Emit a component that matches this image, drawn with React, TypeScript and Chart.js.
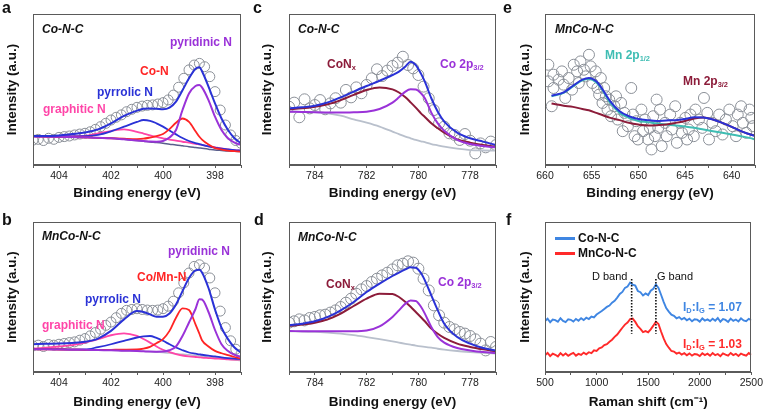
import React, { useEffect, useRef } from 'react';
import { Chart, registerables } from 'chart.js';
Chart.register(...registerables);

const FONT = '"Liberation Sans", Arial, Helvetica, sans-serif';

// ---------- N 1s (panels a, b) ----------
const nE = [405, 404.5, 404, 403.5, 403, 402.5, 402, 401.5, 401, 400.75, 400.5, 400.25, 400, 399.75, 399.5, 399.25, 399, 398.75, 398.6, 398.5, 398.25, 398, 397.75, 397.5, 397.25, 397];
const aEnvelope = [19.2, 19.2, 19.6, 20.5, 21.5, 23.6, 27.6, 32.5, 36, 37.2, 37.5, 37.3, 36.9, 38, 42, 49.5, 57.4, 63.8, 64.7, 62.1, 51.9, 40.8, 30.8, 23.2, 17.7, 14.4];
const aBaseline = [19, 18.8, 18.7, 18.5, 18.3, 18, 17.7, 17, 16.2, 15.8, 15.3, 14.9, 14.4, 13.8, 13.3, 12.7, 12.1, 11.6, 11.3, 11.1, 10.5, 9.9, 9.6, 9.3, 9.1, 8.9];
const aPyridinic = [19, 18.8, 18.7, 18.5, 18.3, 18, 17.7, 17, 16.3, 15.9, 15.5, 15.4, 15.9, 18.2, 23.2, 36.4, 47.4, 52.3, 53, 51.4, 43, 32, 23.2, 17.7, 14.8, 13.3];
const aCoN = [19, 18.8, 18.7, 18.5, 18.3, 18, 17.7, 17.4, 17.2, 17.4, 18.2, 19.2, 20.5, 23.8, 28, 30.8, 28.5, 22.4, 18.7, 16.8, 13.5, 11.2, 10.3, 9.5, 9.2, 8.9];
const aPyrrolic = [19, 19, 19, 19, 19.1, 19.9, 22.3, 25.4, 28.5, 29.8, 29.3, 27.6, 25.4, 22.8, 20.3, 17.9, 15.9, 14.5, 13.8, 13.3, 12.3, 11.5, 10.9, 10.4, 9.9, 9.5];
const aGraphitic = [19, 19, 19, 19.1, 19.2, 21, 22.5, 23.6, 22, 20.8, 19.6, 18.6, 17.7, 16.8, 16.2, 15.4, 14.8, 14, 13.6, 13.3, 12.4, 11.7, 11, 10.4, 9.9, 9.5];

const bEnvelope = [18.5, 18.8, 19, 19.4, 20.1, 22.3, 27.4, 35.1, 40.6, 40, 38.4, 36.9, 36.9, 39, 45, 53.9, 62.7, 67.8, 68.2, 66.4, 56, 41.7, 29.6, 21.9, 16.3, 13];
const bBaseline = [15.2, 15.1, 15, 14.9, 14.8, 14.6, 14.5, 14.2, 14, 13.8, 13.5, 13.2, 13, 12.6, 12.2, 11.8, 11.5, 11, 10.7, 10.5, 10, 9.5, 9, 8.5, 8, 7.5];
const bPyridinic = [15.2, 15.1, 15, 14.9, 14.8, 14.6, 14.5, 14.2, 14, 13.8, 13.6, 13.5, 13.6, 14.5, 17, 24, 33, 42, 48.5, 48.3, 40, 28, 18.5, 14, 11.5, 10];
const bCoMnN = [15.2, 15.1, 15, 14.9, 14.8, 14.7, 14.8, 14.9, 15, 15.6, 16.8, 19.2, 21.9, 27.4, 36.2, 42.4, 41.3, 31.8, 25.5, 21.2, 17, 14.1, 12.5, 11.3, 10, 9];
const bPyrrolic = [15.2, 15.2, 15.2, 15.1, 15, 16.6, 18.5, 20.8, 23, 23.7, 24, 22.7, 20.8, 18.5, 16.3, 14.5, 13, 12.2, 11.8, 11.5, 10.9, 10.4, 9.8, 9.3, 8.9, 8.6];
const bGraphitic = [15.5, 16.2, 17, 17.9, 19.6, 21.9, 24.5, 25.8, 24.1, 22, 19.6, 17, 14.8, 13.2, 11.9, 11, 10.4, 10, 9.8, 9.6, 9.3, 9, 8.8, 8.5, 8.3, 8.2];

const nCircleE = [405, 404.8, 404.6, 404.4, 404.2, 404, 403.8, 403.6, 403.4, 403.2, 403, 402.8, 402.6, 402.4, 402.2, 402, 401.8, 401.6, 401.4, 401.2, 401, 400.8, 400.6, 400.4, 400.2, 400, 399.8, 399.6, 399.4, 399.2, 399, 398.8, 398.6, 398.4, 398.2, 398, 397.8, 397.6, 397.4, 397.2, 397];
const aCircles = [16.5, 17, 16.2, 17.7, 17, 18.3, 18.8, 19.2, 19.9, 20.5, 21, 22, 23.6, 25.4, 27.6, 29.8, 31.6, 33.2, 35.3, 36.9, 38.2, 39, 39.5, 39.8, 40.4, 41.3, 43.1, 46.3, 51.5, 57.4, 63, 66.2, 67.3, 65.1, 58.5, 48.6, 36.4, 26.5, 19.9, 16.2, 14.4];
const bCircles = [17.4, 17.9, 17, 18.3, 17.9, 18.5, 19, 19.6, 20.1, 21.2, 22.3, 24.1, 26.3, 28.5, 31.1, 33.3, 36.2, 39.1, 41.1, 41.7, 42.2, 41.7, 41.3, 41.1, 41.3, 42.2, 43.9, 47.2, 52.8, 59.4, 66, 70.4, 71.5, 69.3, 62.7, 52.8, 40.6, 29.6, 20.8, 15.2, 11.9];

// ---------- Co 2p (panels c, d) ----------
const coE = [785, 784.5, 784, 783.5, 783, 782.5, 782, 781.5, 781, 780.75, 780.5, 780.3, 780.1, 779.9, 779.75, 779.5, 779.25, 779, 778.5, 778, 777.5, 777];
const cEnvelope = [37.5, 38.2, 39.3, 41.5, 44.8, 48.6, 52.3, 55.8, 59.6, 61.8, 65.2, 68.4, 66.2, 60.5, 55.2, 44.2, 35.3, 28.7, 21.4, 17.7, 15.5, 13.2];
const cCoNx = [36.9, 37.5, 38.6, 40.2, 43, 46.4, 49.7, 51.4, 50.1, 48, 44.8, 41.5, 38, 34.2, 31.8, 27.6, 24.3, 21.4, 17, 14.8, 13.2, 12.1];
const cCo2p = [35.3, 35.1, 34.9, 34.8, 34.7, 34.9, 35.3, 37.1, 41.3, 44.8, 48.6, 50.1, 50, 47.5, 44.2, 34.7, 27.6, 22.7, 16.6, 13.9, 12.6, 11.7];
const cBaseline = [35.3, 35.2, 35.1, 34.2, 32.7, 30.2, 28, 25.4, 22.1, 20.4, 18.8, 17.7, 16.6, 15.7, 15.2, 13.9, 13, 12.1, 10.8, 9.9, 9.6, 9.5];

const dEnvelope = [31.1, 32.2, 33.8, 36.7, 41.1, 46.7, 53.3, 58.9, 64, 66.3, 68.4, 69.8, 69.5, 66, 61.1, 51.1, 41.1, 32.2, 23.3, 18.9, 16, 14.4];
const dCoNx = [30.7, 31.6, 32.9, 35.1, 38.9, 44, 48.9, 52.2, 52, 50, 46.7, 43.5, 40, 36.5, 33.8, 28.9, 25.5, 22.7, 18.9, 16.7, 15.1, 13.8];
const dCo2p = [27.3, 27.2, 27.1, 27.1, 27.1, 27.1, 27.6, 30.4, 36.7, 41.1, 45.6, 47.6, 47.4, 43.5, 38.9, 30, 23.3, 19.6, 16, 14.4, 13.3, 12.7];
const dBaseline = [27.1, 27, 26.7, 26.2, 25.6, 24.6, 23.3, 21.9, 20.4, 19.6, 18.8, 18.2, 17.6, 17.1, 16.8, 16.2, 15.5, 14.9, 14, 13.3, 12.7, 12.2];

const coCircleE = [785, 784.8, 784.6, 784.4, 784.2, 784, 783.8, 783.6, 783.4, 783.2, 783, 782.8, 782.6, 782.4, 782.2, 782, 781.8, 781.6, 781.4, 781.2, 781, 780.8, 780.6, 780.4, 780.2, 780, 779.8, 779.6, 779.4, 779.2, 779, 778.8, 778.6, 778.4, 778.2, 778, 777.8, 777.6, 777.4, 777.2, 777];
const cCircles = [38.6, 41.3, 31.6, 43.5, 37.5, 39.7, 43, 36.9, 40.8, 44.2, 41.3, 49.7, 44.8, 51.4, 47.5, 53, 57.4, 63.4, 58.9, 62.5, 65.6, 67.8, 71.7, 66.2, 64, 59.6, 51.9, 44.2, 36.4, 27.6, 25.4, 21, 19.9, 16.6, 20.5, 16.1, 7.7, 14.3, 11.7, 15.5, 13.2];
const dCircles = [32.9, 33.8, 35.1, 34.4, 36, 36.7, 37.8, 38.2, 39.6, 41.1, 43.3, 46.2, 48.9, 52.2, 55.1, 57.3, 60, 62.2, 64.4, 66.2, 68.4, 71.1, 72.2, 73.8, 72.9, 68.9, 62.2, 54.4, 44.4, 37.8, 32.9, 30, 28.4, 26.7, 25.6, 24, 21.8, 18.9, 14.4, 20, 16.7];

// ---------- Mn 2p (panel e) ----------
const mnE = [659.3, 658, 657, 656, 655.3, 654.5, 654, 653, 652, 651, 650, 649, 648, 647, 646, 645, 644, 643, 642, 641, 640, 639, 638, 637.5];
const eEnvelope = [45.9, 48.1, 52.5, 56.5, 57.6, 55.4, 51.6, 42.2, 35.6, 32.3, 30.5, 29.7, 29.2, 29.5, 29.7, 30.5, 31.6, 31.4, 30.1, 27.9, 25.3, 22.4, 20.2, 19.1];
const eMn2p12 = [45.5, 47.7, 52.1, 56, 56.9, 54.7, 51, 41.1, 34.5, 31.2, 29.2, 28.4, 27.5, 26.8, 26.2, 25.5, 24.6, 23.5, 22.4, 21.3, 20.2, 19.1, 17.8, 16.9];
const eMn2p32 = [40.7, 39.3, 38.5, 37.1, 36.2, 34.5, 33.4, 31.2, 29.7, 27.9, 26.8, 26.2, 26.4, 26.8, 27.9, 29.2, 30.8, 31.4, 30.1, 27.9, 25.3, 22.4, 20.2, 19.6];
const eCircleE = [659.64, 659.64, 659.09, 659.09, 659.28, 658.55, 658.19, 658.01, 657.83, 657.46, 657.10, 656.92, 656.56, 656.38, 656.20, 655.83, 655.65, 655.29, 655.11, 654.93, 654.57, 654.38, 654.20, 654.02, 653.84, 653.66, 653.48, 653.30, 653.12, 652.93, 652.57, 652.39, 652.21, 651.85, 651.67, 651.49, 651.12, 650.76, 650.58, 650.40, 650.22, 650.04, 649.67, 649.49, 649.31, 648.95, 648.77, 648.59, 648.41, 648.22, 648.04, 647.86, 647.68, 647.50, 647.14, 646.96, 646.59, 646.41, 646.05, 645.87, 645.51, 645.33, 644.96, 644.78, 644.60, 644.42, 644.06, 643.88, 643.51, 643.15, 642.97, 642.61, 642.43, 642.07, 641.70, 641.34, 640.98, 640.62, 640.25, 639.89, 639.53, 639.35, 638.99, 638.80, 638.44, 638.08, 637.90, 637.72];
const eCircles = [66.4, 55.4, 59.8, 51.0, 38.9, 56.5, 62.0, 53.2, 44.4, 57.6, 49.9, 66.4, 62.0, 54.3, 68.6, 63.1, 58.7, 73.0, 65.3, 54.3, 62.0, 51.0, 46.6, 57.6, 41.1, 51.0, 45.5, 36.7, 43.3, 32.3, 38.9, 45.5, 30.1, 41.1, 22.4, 34.5, 25.7, 51.0, 33.4, 19.1, 29.0, 16.9, 36.7, 22.4, 30.1, 16.9, 24.6, 10.3, 32.3, 19.1, 43.3, 24.6, 36.7, 12.5, 27.9, 19.1, 33.4, 23.5, 38.9, 14.7, 27.9, 21.3, 31.2, 16.9, 23.5, 33.4, 19.1, 36.7, 30.1, 24.6, 44.4, 34.5, 16.9, 27.9, 22.4, 33.4, 20.2, 30.1, 36.7, 25.7, 19.1, 33.4, 38.9, 27.9, 21.3, 36.7, 31.2, 25.7];

// ---------- Raman (panel f) ----------
const ramanShift = [500, 525, 550, 575, 600, 625, 650, 675, 700, 725, 750, 775, 800, 825, 850, 875, 900, 925, 950, 975, 1000, 1025, 1050, 1075, 1100, 1125, 1150, 1175, 1200, 1225, 1250, 1275, 1300, 1325, 1350, 1375, 1400, 1425, 1450, 1475, 1500, 1525, 1550, 1575, 1600, 1625, 1650, 1675, 1700, 1725, 1750, 1775, 1800, 1825, 1850, 1875, 1900, 1925, 1950, 1975, 2000, 2025, 2050, 2075, 2100, 2125, 2150, 2175, 2200, 2225, 2250, 2275, 2300, 2325, 2350, 2375, 2400, 2425, 2450, 2475, 2500];
const ramanCoNC = [34.0, 35.5, 33.2, 35.0, 34.6, 33.5, 35.8, 34.1, 33.3, 35.2, 34.8, 33.6, 35.4, 34.2, 35.9, 34.6, 36.2, 35.3, 37.0, 36.4, 38.3, 39.5, 40.6, 42.0, 43.4, 44.3, 46.2, 47.5, 49.6, 52.0, 53.4, 56.1, 57.0, 59.6, 58.3, 57.6, 54.0, 53.2, 51.0, 52.4, 51.3, 54.2, 55.5, 58.4, 56.0, 51.5, 46.8, 42.6, 40.3, 38.2, 37.5, 35.8, 36.6, 35.1, 36.0, 34.5, 35.6, 33.8, 35.2, 34.9, 33.6, 35.7, 34.3, 35.1, 33.9, 35.5, 34.2, 36.0, 33.5, 35.3, 34.7, 33.4, 35.6, 34.1, 35.0, 33.7, 35.8, 34.4, 33.9, 35.4, 34.6];
const ramanMnCoNC = [11.2, 12.8, 10.6, 12.2, 11.5, 10.4, 12.6, 11.0, 12.3, 10.8, 11.9, 12.7, 10.9, 12.1, 11.4, 12.9, 11.8, 13.2, 12.6, 14.5, 14.1, 15.8, 16.4, 17.9, 18.6, 20.2, 21.5, 23.4, 25.0, 27.2, 29.5, 31.6, 33.0, 35.2, 35.6, 33.4, 30.5, 28.8, 26.6, 27.3, 26.5, 28.4, 30.9, 33.6, 32.0, 27.0, 22.4, 18.6, 16.2, 14.0, 13.6, 12.3, 13.0, 11.6, 12.5, 11.1, 12.4, 10.9, 12.0, 11.7, 10.6, 12.5, 11.3, 12.2, 10.8, 12.6, 11.2, 12.0, 10.5, 12.4, 11.6, 10.9, 12.7, 11.3, 12.1, 10.7, 12.3, 11.5, 10.9, 12.6, 11.4];
const bandShift = [1340, 1575];
const bandMarkerRange = [62, 25.5];

// ---------- colors ----------
const BLUE = '#2a32d6';
const PURPLE = '#9a32d8';
const RED = '#ff2424';
const PINK = '#ff45a8';
const MAROON = '#8c1c3a';
const TEAL = '#3fbdb3';
const GRAY_BASE = '#b9c0cc';
const DARK_BASE = '#5a5f8c';
const CIRCLE = '#8b9098';
const RAMAN_BLUE = '#3f86e2';
const RAMAN_RED = '#ff2a2a';

const pts = (xs: number[], ys: number[]) => xs.map((x, i) => ({ x, y: ys[i] }));

const line = (xs: number[], ys: number[], color: string, width = 1.8, order = 1) => ({
  data: pts(xs, ys),
  borderColor: color,
  borderWidth: width,
  pointRadius: 0,
  cubicInterpolationMode: 'monotone',
  fill: false,
  order,
});

const circles = (xs: number[], ys: number[], r: number) => ({
  data: pts(xs, ys),
  showLine: false,
  pointRadius: r,
  pointStyle: 'circle',
  pointBorderColor: CIRCLE,
  pointBackgroundColor: 'rgba(0,0,0,0)',
  pointBorderWidth: 1,
  order: 10,
});

const framePlugin = {
  id: 'frame',
  afterDraw(chart: any) {
    const { ctx, chartArea: a } = chart;
    ctx.save();
    ctx.strokeStyle = '#5a5a5a';
    ctx.lineWidth = 1;
    ctx.strokeRect(Math.round(a.left) + 0.5, Math.round(a.top) + 0.5, Math.round(a.right - a.left) - 1, Math.round(a.bottom - a.top) - 1);
    ctx.restore();
  },
};

type PanelProps = {
  left: number; top: number; width: number; height: number;
  yW: number; xH: number; padTop: number; padRight: number; yTitlePad: number;
  xMin: number; xMax: number; step: number; major: number; reverse: boolean;
  xTitle: string; datasets: any[];
};

function Panel(p: PanelProps) {
  const ref = useRef<HTMLCanvasElement>(null);
  useEffect(() => {
    const chart = new Chart(ref.current as HTMLCanvasElement, {
      type: 'line',
      data: { datasets: p.datasets },
      options: {
        responsive: false,
        animation: false,
        devicePixelRatio: 1,
        layout: { padding: { top: p.padTop, right: p.padRight, left: 0, bottom: 0 } },
        plugins: { legend: { display: false }, tooltip: { enabled: false } },
        scales: {
          x: {
            type: 'linear',
            min: p.xMin,
            max: p.xMax,
            reverse: p.reverse,
            afterFit: (s: any) => { s.height = p.xH; },
            ticks: {
              stepSize: p.step,
              autoSkip: false,
              maxRotation: 0,
              padding: 2,
              color: '#222',
              font: { family: FONT, size: 10.5 },
              callback: (v: any) => {
                const r = Number(v) / p.major;
                return Math.abs(r - Math.round(r)) < 1e-6 ? String(v) : '';
              },
            },
            grid: { display: true, drawOnChartArea: false, drawTicks: true, tickLength: 3, color: '#5a5a5a' },
            border: { display: true, color: '#5a5a5a' },
            title: {
              display: true, text: p.xTitle, color: '#111',
              font: { family: FONT, size: 13.5, weight: 'bold' },
              padding: { top: 0, bottom: 1 },
            },
          },
          y: {
            type: 'linear',
            min: 0,
            max: 100,
            afterFit: (s: any) => { s.width = p.yW; },
            ticks: { display: false },
            grid: { display: false },
            border: { display: true, color: '#5a5a5a' },
            title: {
              display: true, text: 'Intensity (a.u.)', color: '#111',
              font: { family: FONT, size: 13.5, weight: 'bold' },
              padding: { top: p.yTitlePad, bottom: 0 },
            },
          },
        },
      } as any,
      plugins: [framePlugin],
    });
    return () => chart.destroy();
  }, []);
  return (
    <canvas
      ref={ref}
      width={p.width}
      height={p.height}
      style={{ position: 'absolute', left: p.left, top: p.top, width: p.width, height: p.height }}
    />
  );
}

function Label(props: { x: number; y: number; color?: string; size?: number; bold?: boolean; italic?: boolean; children: any }) {
  return (
    <div
      style={{
        position: 'absolute',
        left: props.x,
        top: props.y,
        transform: 'translateY(-50%)',
        color: props.color || '#111',
        fontFamily: FONT,
        fontSize: props.size || 12,
        fontWeight: props.bold === false ? 'normal' : 'bold',
        fontStyle: props.italic ? 'italic' : 'normal',
        whiteSpace: 'nowrap',
        lineHeight: 1,
      }}
    >
      {props.children}
    </div>
  );
}

const Sub = ({ children }: { children: any }) => (
  <span style={{ fontSize: '0.62em', position: 'relative', top: '0.3em' }}>{children}</span>
);

const XPS = 'Binding energy (eV)';
const col1 = { left: 0, width: 248, yW: 33, padRight: 7, yTitlePad: 4 };
const col2 = { left: 250, width: 253, yW: 39, padRight: 7, yTitlePad: 9 };
const col3 = { left: 503, width: 262, yW: 42, padRight: 10, yTitlePad: 14 };
const row1 = { top: 0, height: 202, padTop: 14, xH: 37 };
const row2 = { top: 207, height: 204, padTop: 15, xH: 39 };

export default function App() {
  const nAxis = { xMin: 397, xMax: 405, step: 1, major: 2, reverse: true, xTitle: XPS };
  const coAxis = { xMin: 777, xMax: 785, step: 1, major: 2, reverse: true, xTitle: XPS };
  const mnAxis = { xMin: 637.5, xMax: 660, step: 2.5, major: 5, reverse: true, xTitle: XPS };
  const ramanAxis = { xMin: 500, xMax: 2500, step: 250, major: 500, reverse: false, xTitle: 'Raman shift (cm\u207B\u00B9)' };

  const dsA = [
    line(nE, aEnvelope, BLUE, 2, 0),
    line(nE, aPyridinic, PURPLE, 2, 1),
    line(nE, aCoN, RED, 1.8, 1),
    line(nE, aPyrrolic, BLUE, 1.8, 1),
    line(nE, aGraphitic, PINK, 1.8, 1),
    line(nE, aBaseline, DARK_BASE, 1.5, 2),
    circles(nCircleE, aCircles, 5),
  ];
  const dsB = [
    line(nE, bEnvelope, BLUE, 2, 0),
    line(nE, bPyridinic, PURPLE, 2, 1),
    line(nE, bCoMnN, RED, 1.8, 1),
    line(nE, bPyrrolic, BLUE, 1.8, 1),
    line(nE, bGraphitic, PINK, 1.8, 1),
    line(nE, bBaseline, GRAY_BASE, 1.5, 2),
    circles(nCircleE, bCircles, 5),
  ];
  const dsC = [
    line(coE, cEnvelope, BLUE, 2, 0),
    line(coE, cCo2p, PURPLE, 2, 1),
    line(coE, cCoNx, MAROON, 2, 1),
    line(coE, cBaseline, GRAY_BASE, 1.8, 2),
    circles(coCircleE, cCircles, 5.5),
  ];
  const dsD = [
    line(coE, dEnvelope, BLUE, 2, 0),
    line(coE, dCo2p, PURPLE, 2, 1),
    line(coE, dCoNx, MAROON, 2, 1),
    line(coE, dBaseline, GRAY_BASE, 1.8, 2),
    circles(coCircleE, dCircles, 5.5),
  ];
  const dsE = [
    line(mnE, eEnvelope, BLUE, 2, 0),
    line(mnE, eMn2p32, MAROON, 2, 1),
    line(mnE, eMn2p12, TEAL, 2, 1),
    circles(eCircleE, eCircles, 5.5),
  ];
  const marker = (x: number) => ({
    data: [{ x, y: bandMarkerRange[0] }, { x, y: bandMarkerRange[1] }],
    borderColor: '#111',
    borderWidth: 1.6,
    borderDash: [1.5, 1.5],
    pointRadius: 0,
    order: 0,
  });
  const dsF = [
    marker(bandShift[0]),
    marker(bandShift[1]),
    { ...line(ramanShift, ramanCoNC, RAMAN_BLUE, 1.9, 1), cubicInterpolationMode: 'default', tension: 0 },
    { ...line(ramanShift, ramanMnCoNC, RAMAN_RED, 1.9, 1), cubicInterpolationMode: 'default', tension: 0 },
  ];

  return (
    <div style={{ position: 'absolute', left: 0, top: 0, width: 765, height: 411, background: '#fff', overflow: 'hidden' }}>
      <Panel {...col1} {...row1} {...nAxis} datasets={dsA} />
      <Panel {...col1} {...row2} {...nAxis} datasets={dsB} />
      <Panel {...col2} {...row1} {...coAxis} datasets={dsC} />
      <Panel {...col2} {...row2} {...coAxis} datasets={dsD} />
      <Panel {...col3} {...row1} {...mnAxis} datasets={dsE} />
      <Panel {...col3} {...row2} {...ramanAxis} datasets={dsF} />

      {/* panel a */}
      <Label x={2} y={8} size={16}>a</Label>
      <Label x={42} y={29} italic>Co-N-C</Label>
      <Label x={170} y={42} color={PURPLE}>pyridinic N</Label>
      <Label x={140} y={71} color={RED}>Co-N</Label>
      <Label x={97} y={92} color={BLUE}>pyrrolic N</Label>
      <Label x={43} y={109} color={PINK}>graphitic N</Label>

      {/* panel b */}
      <Label x={2} y={220} size={16}>b</Label>
      <Label x={42} y={236} italic>MnCo-N-C</Label>
      <Label x={168} y={251} color={PURPLE}>pyridinic N</Label>
      <Label x={137} y={277} color={RED}>Co/Mn-N</Label>
      <Label x={85} y={299} color={BLUE}>pyrrolic N</Label>
      <Label x={42} y={325} color={PINK}>graphitic N</Label>

      {/* panel c */}
      <Label x={253} y={8} size={16}>c</Label>
      <Label x={298} y={29} italic>Co-N-C</Label>
      <Label x={327} y={64} color={MAROON}>CoN<Sub>x</Sub></Label>
      <Label x={440} y={64} color={PURPLE}>Co 2p<Sub>3/2</Sub></Label>

      {/* panel d */}
      <Label x={254} y={220} size={16}>d</Label>
      <Label x={298} y={237} italic>MnCo-N-C</Label>
      <Label x={326} y={284} color={MAROON}>CoN<Sub>x</Sub></Label>
      <Label x={438} y={282} color={PURPLE}>Co 2p<Sub>3/2</Sub></Label>

      {/* panel e */}
      <Label x={503} y={8} size={16}>e</Label>
      <Label x={555} y={29} italic>MnCo-N-C</Label>
      <Label x={605} y={55} color={TEAL}>Mn 2p<Sub>1/2</Sub></Label>
      <Label x={683} y={81} color={MAROON}>Mn 2p<Sub>3/2</Sub></Label>

      {/* panel f */}
      <Label x={506} y={220} size={16}>f</Label>
      <div style={{ position: 'absolute', left: 555, top: 237, width: 20, height: 2.5, background: RAMAN_BLUE }} />
      <div style={{ position: 'absolute', left: 555, top: 252, width: 20, height: 2.5, background: RAMAN_RED }} />
      <Label x={578} y={238}>Co-N-C</Label>
      <Label x={578} y={253}>MnCo-N-C</Label>
      <Label x={592} y={276} bold={false} size={11}>D band</Label>
      <Label x={657} y={276} bold={false} size={11}>G band</Label>
      <Label x={683} y={307} color={RAMAN_BLUE}>I<Sub>D</Sub>:I<Sub>G</Sub> = 1.07</Label>
      <Label x={683} y={344} color={RAMAN_RED}>I<Sub>D</Sub>:I<Sub>G</Sub> = 1.03</Label>
    </div>
  );
}
